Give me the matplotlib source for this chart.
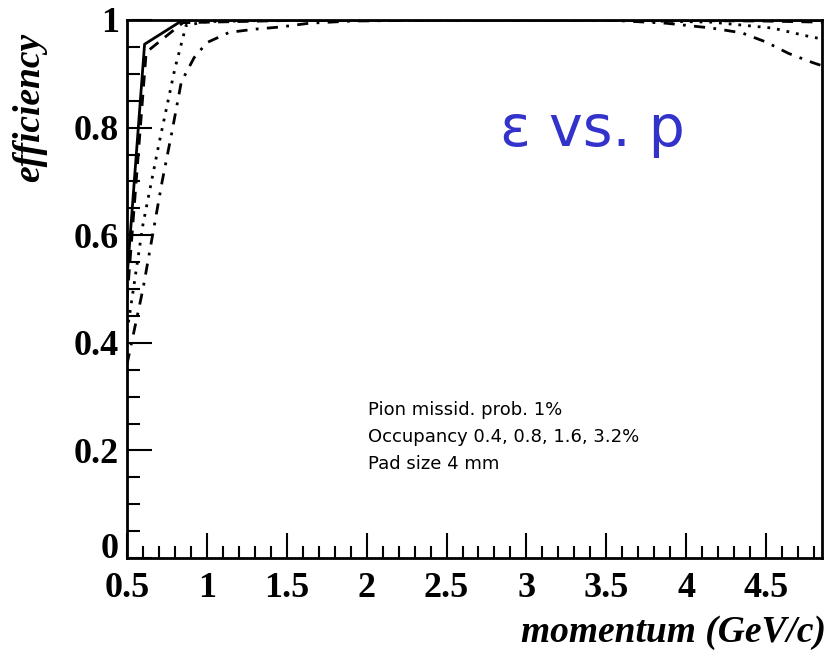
import matplotlib
matplotlib.use("Agg")
import matplotlib.pyplot as plt
import matplotlib.transforms as mtransforms
from matplotlib.ticker import MultipleLocator

# occupancy 0.4 % (solid)
p_solid = [0.5, 0.61, 0.85, 1.5, 2.5, 3.5, 4.5, 4.85]
eff_solid = [0.52, 0.955, 1.0, 1.0, 1.0, 1.0, 1.0, 0.999]

# occupancy 0.8 % (dashed)
p_dash = [0.5, 0.62, 0.85, 1.5, 2.5, 3.5, 4.5, 4.85]
eff_dash = [0.48, 0.94, 0.995, 0.999, 1.0, 1.0, 0.998, 0.996]

# occupancy 1.6 % (dotted)
p_dot = [0.5, 0.6, 0.7, 0.8, 0.87, 1.0, 1.5, 2.5, 3.5, 4.16, 4.54, 4.79, 4.85]
eff_dot = [0.42, 0.62, 0.77, 0.91, 0.99, 0.997, 1.0, 1.0, 1.0, 0.996, 0.985, 0.968, 0.965]

# occupancy 3.2 % (dash-dot)
p_dd = [0.5, 0.6, 0.66, 0.72, 0.78, 0.84, 0.92, 1.0, 1.14, 1.3, 1.46, 1.64, 1.9,
        2.5, 3.5, 3.875, 4.16, 4.35, 4.5, 4.64, 4.79, 4.85]
eff_dd = [0.36, 0.5, 0.6, 0.7, 0.79, 0.885, 0.93, 0.958, 0.977, 0.983, 0.987, 0.994,
          0.998, 1.0, 1.0, 0.994, 0.985, 0.976, 0.959, 0.938, 0.921, 0.915]

x_ticks = [0.5, 1, 1.5, 2, 2.5, 3, 3.5, 4, 4.5]
x_tick_labels = ["0.5", "1", "1.5", "2", "2.5", "3", "3.5", "4", "4.5"]
y_ticks = [0, 0.2, 0.4, 0.6, 0.8, 1]
y_tick_labels = ["0", "0.2", "0.4", "0.6", "0.8", "1"]

fig = plt.figure(figsize=(8.28, 6.58), dpi=100)
ax = fig.add_axes([127 / 828, 1 - 558 / 658, (822 - 127) / 828, (558 - 20) / 658])

ax.plot(p_solid, eff_solid, color="black", lw=2.0, ls="-")
ax.plot(p_dash, eff_dash, color="black", lw=2.0, ls=(0, (4, 3)))
ax.plot(p_dot, eff_dot, color="black", lw=2.0, ls=(0, (1, 2.5)))
ax.plot(p_dd, eff_dd, color="black", lw=2.0, ls=(0, (4, 3, 1, 3)))

ax.set_xlim(0.5, 4.85)
ax.set_ylim(0, 1)

ax.set_xticks(x_ticks)
ax.set_xticklabels(x_tick_labels)
ax.set_yticks(y_ticks)
ax.set_yticklabels(y_tick_labels)
ax.xaxis.set_minor_locator(MultipleLocator(0.1))
ax.yaxis.set_minor_locator(MultipleLocator(0.05))

ax.tick_params(which="both", direction="in", width=1.5, top=False, right=False)
ax.tick_params(which="major", length=18)
ax.tick_params(which="minor", length=9)
ax.tick_params(axis="x", pad=10)
ax.tick_params(axis="y", pad=6)
for lab in ax.get_xticklabels() + ax.get_yticklabels():
    lab.set_family("Liberation Serif")
    lab.set_fontweight("bold")
    lab.set_fontsize(26)

# ROOT-style: the "0" of the y axis sits a bit above the axis line
zero_lab = ax.get_yticklabels()[0]
zero_lab.set_transform(zero_lab.get_transform() +
                       mtransforms.ScaledTranslation(0, 12 / 100, fig.dpi_scale_trans))

for sp in ax.spines.values():
    sp.set_linewidth(2.0)

fig.text(826 / 828, 1 - 632 / 658, "momentum (GeV/c)", ha="right", va="center",
         family="Liberation Serif", fontweight="bold", style="italic", fontsize=27)
fig.text(30 / 828, 1 - 107 / 658, "efficiency", ha="center", va="center", rotation=90,
         family="Liberation Serif", fontweight="bold", style="italic", fontsize=27)

fig.text(368 / 828, 1 - 401 / 658,
         "Pion missid. prob. 1%\nOccupancy 0.4, 0.8, 1.6, 3.2%\nPad size 4 mm",
         ha="left", va="top", family="DejaVu Sans", fontsize=13, linespacing=1.65)

fig.text(592 / 828, 1 - 130 / 658, "ε vs. p", ha="center", va="center",
         color="#3333cc", family="DejaVu Sans", fontsize=41)

fig.savefig("out.png", dpi=100)
